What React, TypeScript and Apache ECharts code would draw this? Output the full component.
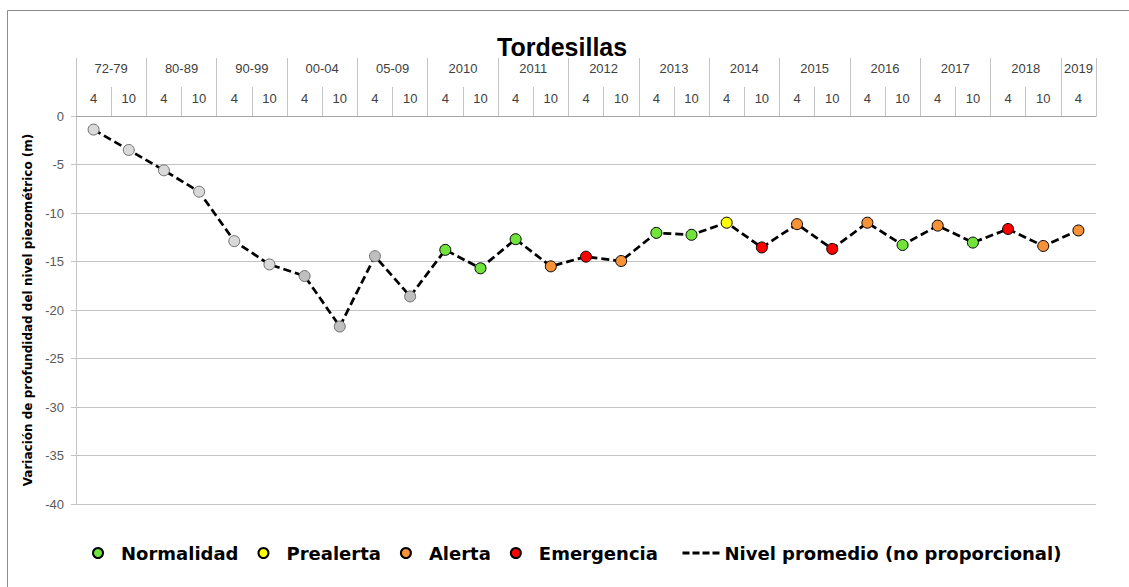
import React, { useEffect, useRef } from "react";
import * as echarts from "echarts";

// ---- Data ----
const yearGroups = ["72-79", "80-89", "90-99", "00-04", "05-09", "2010", "2011", "2012", "2013", "2014", "2015", "2016", "2017", "2018", "2019"];
const groupMonths = [
  ["4", "10"], ["4", "10"], ["4", "10"], ["4", "10"], ["4", "10"],
  ["4", "10"], ["4", "10"], ["4", "10"], ["4", "10"], ["4", "10"],
  ["4", "10"], ["4", "10"], ["4", "10"], ["4", "10"], ["4"],
];
const levels = [
  -1.4, -3.5, -5.6, -7.8, -12.9, -15.3, -16.5, -21.7, -14.45, -18.6,
  -13.8, -15.7, -12.7, -15.5, -14.5, -14.95, -12.05, -12.25, -11.0, -13.55,
  -11.15, -13.7, -11.0, -13.3, -11.3, -13.05, -11.65, -13.4, -11.8,
];
// H1 / H2: historical points (no status), N: Normalidad, P: Prealerta, A: Alerta, E: Emergencia
const status = [
  "H1", "H1", "H1", "H1", "H1", "H1", "H2", "H2", "H2", "H2",
  "N", "N", "N", "A", "E", "A", "N", "N", "P", "E",
  "A", "E", "A", "N", "A", "N", "E", "A", "A",
];
const yTicks = { min: -40, max: 0, interval: 5 };
const title = "Tordesillas";
const yName = "Variación de profundidad del nivel piezométrico (m)";
const lineName = "Nivel promedio (no proporcional)";
const statusSeries = [
  { key: "N", name: "Normalidad", color: "#72e33a" },
  { key: "P", name: "Prealerta", color: "#ffff00" },
  { key: "A", name: "Alerta", color: "#f79336" },
  { key: "E", name: "Emergencia", color: "#ff0000" },
];
const histSeries = [
  { key: "H1", color: "#d9d9d9" },
  { key: "H2", color: "#bfbfbf" },
];

export default function App() {
  const ref = useRef<HTMLDivElement>(null);

  useEffect(() => {
    if (!ref.current) return;
    const chart = echarts.init(ref.current, undefined, { renderer: "svg" });

    const months: string[] = [];
    groupMonths.forEach((g) => g.forEach((m) => months.push(m)));

    // half-category slots for the year row (boundaryGap false)
    const slots: string[] = [];
    const tickIdx = new Set<number>();
    const labelIdx = new Set<number>();
    let pos = 0;
    yearGroups.forEach((g, i) => {
      const n = groupMonths[i].length * 2;
      tickIdx.add(pos);
      for (let k = 0; k < n; k++) slots.push(k === n / 2 ? g : "");
      labelIdx.add(pos + n / 2);
      pos += n;
    });
    slots.push("");
    tickIdx.add(pos);

    const gridColor = "#c4c4c4";
    const fontTick = "Liberation Sans";
    const legendText = { fontFamily: "DejaVu Sans", fontWeight: "bold", fontSize: 18, color: "#000" };

    const series: any[] = [
      {
        name: lineName,
        type: "line",
        xAxisIndex: 0,
        data: levels,
        symbol: "none",
        lineStyle: { color: "#000", width: 2.75, type: [8, 4] },
        itemStyle: { color: "#000" },
        z: 2,
      },
    ];
    histSeries.forEach((h) => {
      series.push({
        name: h.key,
        type: "scatter",
        xAxisIndex: 0,
        symbol: "circle",
        symbolSize: 11,
        data: levels.map((v, i) => (status[i] === h.key ? v : "-")),
        itemStyle: { color: h.color, borderColor: "#6f6f6f", borderWidth: 1, opacity: 1 },
        z: 3,
      });
    });
    statusSeries.forEach((s) => {
      series.push({
        name: s.name,
        type: "scatter",
        xAxisIndex: 0,
        symbol: "circle",
        symbolSize: 11,
        data: levels.map((v, i) => (status[i] === s.key ? v : "-")),
        itemStyle: { color: s.color, borderColor: "#000", borderWidth: 1, opacity: 1 },
        z: 4,
      });
    });

    chart.setOption({
      animation: false,
      backgroundColor: "#fff",
      title: {
        text: title,
        left: 492,
        top: 29,
        textStyle: { fontFamily: "Liberation Sans", fontWeight: "bold", fontSize: 25, color: "#000" },
      },
      legend: [
        {
          data: statusSeries.map((s) => s.name),
          left: 87,
          top: 539,
          itemWidth: 36,
          itemHeight: 10,
          itemGap: 19,
          textStyle: legendText,
        },
        {
          data: [{ name: lineName, itemStyle: { opacity: 0 } }],
          left: 676,
          top: 539,
          itemWidth: 37,
          itemHeight: 10,
          lineStyle: { type: [7, 3], width: 3, color: "#000" },
          textStyle: legendText,
        },
      ],
      grid: { left: 76, right: 33, top: 116, bottom: 83, containLabel: false },
      xAxis: [
        {
          type: "category",
          position: "top",
          data: months,
          boundaryGap: true,
          axisLine: { show: true, lineStyle: { color: "#a6a6a6", width: 1 } },
          axisTick: { show: true, interval: 0, length: 29, lineStyle: { color: gridColor } },
          axisLabel: { interval: 0, margin: 11, color: "#404040", fontSize: 13, fontFamily: fontTick },
          splitLine: { show: false },
        },
        {
          type: "category",
          position: "top",
          data: slots,
          boundaryGap: false,
          axisLine: { show: false },
          axisTick: {
            show: true,
            length: 58,
            interval: (index: number) => tickIdx.has(index),
            lineStyle: { color: gridColor },
          },
          axisLabel: {
            interval: (index: number) => labelIdx.has(index),
            margin: 41.5,
            color: "#404040",
            fontSize: 13,
            fontFamily: fontTick,
          },
          splitLine: { show: false },
        },
      ],
      yAxis: {
        type: "value",
        min: yTicks.min,
        max: yTicks.max,
        interval: yTicks.interval,
        name: yName,
        nameLocation: "middle",
        nameRotate: 90,
        nameGap: 33,
        nameTextStyle: { fontFamily: "DejaVu Sans", fontWeight: "bold", fontSize: 12, color: "#000" },
        axisLine: { show: true, lineStyle: { color: gridColor } },
        axisTick: { show: true, length: 5, lineStyle: { color: gridColor } },
        axisLabel: { margin: 12, color: "#595959", fontSize: 13, fontFamily: fontTick },
        splitLine: { show: true, lineStyle: { color: gridColor, width: 1 } },
      },
      graphic: [
        {
          type: "rect",
          shape: { x: 7.5, y: 10.5, width: 1140, height: 600 },
          style: { fill: "none", stroke: "#8c8c8c", lineWidth: 1 },
          silent: true,
          z: 100,
        },
      ],
      series,
    });

    return () => chart.dispose();
  }, []);

  return (
    <div
      ref={ref}
      style={{ position: "fixed", left: 0, top: 0, width: 1129, height: 587, background: "#fff" }}
    />
  );
}
